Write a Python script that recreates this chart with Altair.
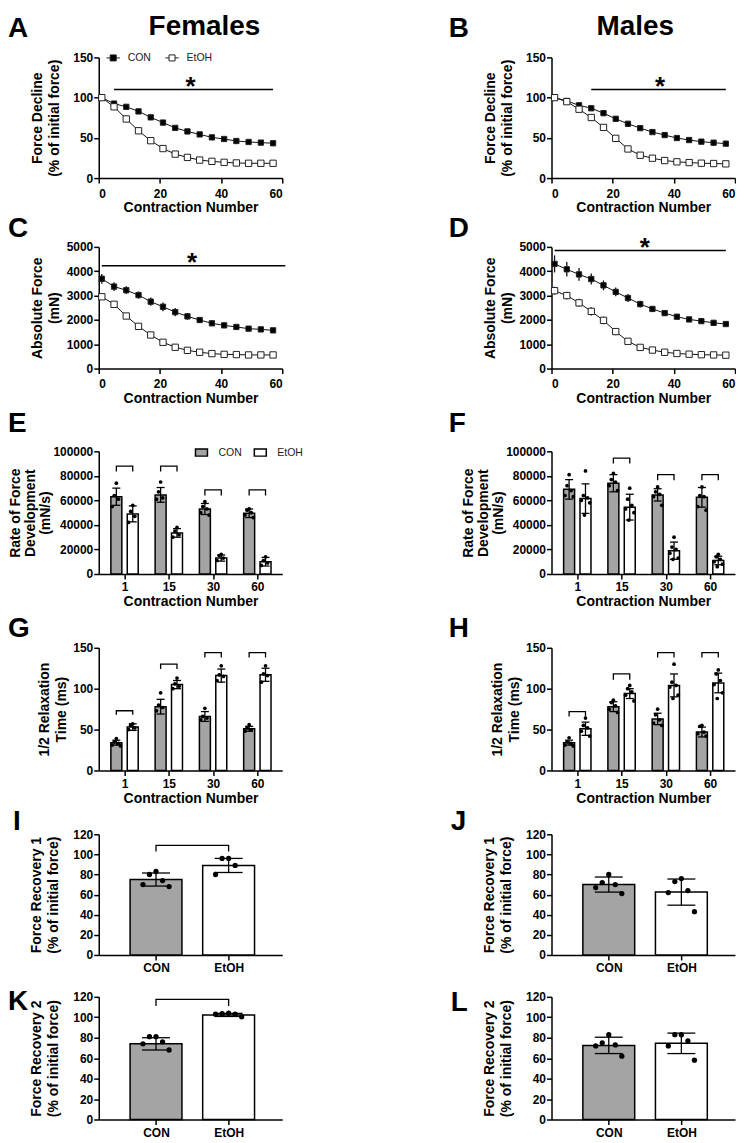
import json
import altair as alt
import pandas as pd

FONT = "Liberation Sans"
GRAY = "#a4a4a4"
INK = "#111111"

# ---------------- data ----------------
contraction = [1, 5, 9, 13, 17, 21, 25, 29, 33, 37, 41, 45, 49, 53, 57]

A_con = [100, 92.6, 88.6, 82.9, 75.5, 69, 62.4, 58, 54.3, 50.6, 48.6, 46.1, 44.9, 44.1, 43.3]
A_etoh = [100, 88.6, 73.5, 58.8, 46.5, 36.7, 29.8, 25.7, 22.4, 20.8, 19.6, 18.8, 18.4, 18.4, 18.4]
A_sig = [5, 57, 110, 30]

B_con = [100, 95.9, 90.5, 86.8, 80.7, 73.7, 67.5, 62.1, 57.2, 53.5, 49.8, 47.3, 45.3, 44, 42.8]
B_etoh = [100, 95, 85.6, 75.3, 63, 49.4, 36.2, 28.4, 24.7, 21.8, 20.2, 19.3, 18.5, 18.1, 17.7]
B_sig = [13, 57, 110, 35.5]

C_con = [3690, 3370, 3220, 3020, 2750, 2540, 2320, 2145, 1995, 1860, 1775, 1710, 1640, 1610, 1570]
C_con_sd = [200, 180, 160, 150, 170, 180, 170, 140, 110, 80, 60, 50, 40, 40, 40]
C_etoh = [2950, 2640, 2160, 1735, 1380, 1080, 875, 750, 670, 615, 585, 575, 560, 560, 560]
C_etoh_sd = [60, 50, 50, 50, 40, 40, 30, 30, 20, 20, 20, 20, 20, 20, 20]
C_sig = [1, 61, 4230, 30.5]

D_con = [4300, 4080, 3870, 3680, 3420, 3150, 2900, 2650, 2450, 2280, 2130, 2020, 1950, 1880, 1830]
D_con_sd = [350, 300, 260, 230, 200, 180, 160, 140, 120, 100, 90, 80, 70, 60, 60]
D_etoh = [3200, 3000, 2700, 2350, 1980, 1520, 1120, 870, 760, 670, 620, 590, 570, 560, 550]
D_etoh_sd = [170, 160, 170, 180, 160, 150, 90, 60, 50, 40, 40, 30, 30, 30, 30]
D_sig = [1, 57, 4850, 30.5]

bar_cats = ["1", "15", "30", "60"]
group_cats = ["CON", "EtOH"]

E_con_mean = [63000, 64500, 53000, 49500]
E_con_sd = [7000, 6000, 4500, 3500]
E_etoh_mean = [49000, 33500, 13000, 10000]
E_etoh_sd = [6500, 3500, 2500, 3500]
E_con_dots = [[74000, 64000, 61000, 55000], [75000, 67000, 62000, 61000],
              [59000, 55000, 53000, 50000, 48000], [53000, 52000, 50000, 48000, 46000]]
E_etoh_dots = [[56000, 51000, 47000, 42000], [38000, 35000, 32000, 30000],
               [16000, 15000, 13000, 11000], [14000, 11000, 9000, 7000]]
E_brackets = [[0, 0, 88000, 83500], [1, 1, 88000, 83500], [2, 2, 68500, 64000], [3, 3, 68500, 64000]]

F_con_mean = [69000, 74000, 64500, 62500]
F_con_sd = [8000, 7000, 5000, 8000]
F_etoh_mean = [61500, 54500, 19000, 11000]
F_etoh_sd = [12000, 10500, 7000, 3500]
F_con_dots = [[81000, 72000, 68000, 64000, 63000], [82000, 77000, 75000, 72000, 68000],
              [71000, 67000, 65000, 63000, 56000], [71000, 64000, 63000, 55000, 52000]]
F_etoh_dots = [[84000, 64000, 62000, 60000, 58000, 48000], [70000, 61000, 56000, 53000, 50000, 44000],
               [30000, 22000, 20000, 17000, 13000, 12000], [16000, 14000, 12000, 10000, 8000, 6000]]
F_brackets = [[1, 1, 94500, 90000], [2, 2, 81000, 76500], [3, 3, 81000, 76500]]

G_con_mean = [34, 78, 66, 51]
G_con_sd = [3, 9, 6, 3]
G_etoh_mean = [53, 105, 116, 117]
G_etoh_sd = [4, 5, 8, 8]
G_con_dots = [[39, 35, 33, 31, 30], [95, 80, 77, 73], [76, 66, 64, 62], [56, 52, 50, 48]]
G_etoh_dots = [[57, 55, 52, 50], [113, 106, 103, 100], [128, 117, 115, 110], [128, 118, 116, 108]]
G_brackets = [[0, 0, 73, 68], [1, 1, 130, 124], [2, 2, 144, 138], [3, 3, 144, 138]]

H_con_mean = [34, 78, 63, 47]
H_con_sd = [3, 6, 7, 6]
H_etoh_mean = [51, 94, 104, 107]
H_etoh_sd = [8, 6, 14, 12]
H_con_dots = [[40, 35, 33, 31, 30], [86, 83, 79, 75, 71], [75, 68, 62, 58, 55], [55, 54, 47, 45, 42]]
H_etoh_dots = [[64, 55, 52, 48, 42], [104, 100, 96, 92, 85], [130, 108, 104, 102, 92, 88],
               [123, 118, 110, 105, 95, 88]]
H_brackets = [[0, 0, 72, 66], [1, 1, 118, 111], [2, 2, 144, 138], [3, 3, 144, 138]]

I_mean = [75, 89]
I_sd = [6.5, 7]
I_dots = [[83, 80, 74, 70, 68], [96, 96, 89, 80]]
I_brackets = [[0, 1, 109, 103]]

J_mean = [70, 62.5]
J_sd = [7.5, 13]
J_dots = [[80, 72, 70, 67, 61], [76, 73, 64, 62, 43]]
J_brackets = []

K_mean = [74, 102.3]
K_sd = [6, 1.5]
K_dots = [[81, 81, 76, 74, 68], [104, 103.5, 103, 103, 100.5]]
K_brackets = [[0, 1, 117.5, 111]]

L_mean = [72.5, 74.5]
L_sd = [8, 10]
L_dots = [[83, 75, 73, 72, 62], [83, 83, 77, 72, 58]]
L_brackets = []

# ---------------- helpers ----------------
PATH_LINE = "M-1,0H-0.45M0.45,0H1M-0.45,-0.45H0.45V0.45H-0.45Z"
PATH_RECT = "M-1,-0.6H1V0.6H-1Z"


def ax(**kw):
    d = dict(grid=False, domainColor="black", domainWidth=1.5, tickColor="black", tickWidth=1.5,
             tickSize=5, labelFont=FONT, labelFontSize=12, labelFontWeight="bold", labelColor="black",
             titleFont=FONT, titleFontSize=14, titleFontWeight="bold", titleColor="black")
    d.update(kw)
    return alt.Axis(**d)


def text_layer(txt, x, y, size=28, align="left"):
    return alt.Chart(pd.DataFrame({"t": [txt]})).mark_text(
        align=align, baseline="alphabetic", font=FONT, fontSize=size, fontWeight="bold", color="black"
    ).encode(text="t:N", x=alt.value(x), y=alt.value(y))


def line_panel(con, etoh, con_sd, etoh_sd, ymax, ystep, ytitle, sig, letter, lx, ly,
               header=None, hx=0, legend=False, h=121):
    n = len(contraction)
    df = pd.DataFrame({
        "n": contraction + contraction,
        "v": con + etoh,
        "sd": (con_sd or [0] * n) + (etoh_sd or [0] * n),
        "g": ["CON"] * n + ["EtOH"] * n,
    })
    xs = alt.Scale(domain=[0, 60], nice=False, zero=False)
    ys = alt.Scale(domain=[0, ymax], nice=False)
    xa = ax(values=[0, 20, 40, 60], title="Contraction Number", labelPadding=5, titlePadding=2)
    ya = ax(values=list(range(0, ymax + 1, ystep)), format="d", title=ytitle, labelPadding=1,
            titleX=-54, titleY=h / 2, titleLineHeight=17)

    def X(f):
        return alt.X(f"{f}:Q", scale=xs, axis=xa)

    def Y(f):
        return alt.Y(f"{f}:Q", scale=ys, axis=ya)

    base = alt.Chart(df)
    layers = [base.mark_line(color=INK, strokeWidth=1).encode(x=X("n"), y=Y("v"), detail="g:N")]
    if con_sd:
        layers.append(
            base.transform_calculate(lo="datum.v - datum.sd", hi="datum.v + datum.sd")
            .mark_rule(strokeWidth=1.3)
            .encode(x=X("n"), y=Y("lo"), y2=alt.Y2("hi"),
                    color=alt.condition(alt.datum.g == "CON", alt.value(INK), alt.value("#444444")))
        )
    if legend:
        fill = alt.Fill("g:N", scale=alt.Scale(domain=group_cats, range=["black", "white"]),
                        legend=alt.Legend(title=None, orient="none", legendX=7, legendY=-7,
                                          direction="horizontal", symbolType=PATH_LINE, symbolSize=180,
                                          symbolStrokeColor="#222222", symbolStrokeWidth=1,
                                          labelFont=FONT, labelFontSize=10.5, labelColor="#222222",
                                          columnPadding=11, labelOffset=7, padding=0))
    else:
        fill = alt.condition(alt.datum.g == "CON", alt.value("black"), alt.value("white"))
    layers.append(
        base.mark_square(filled=True, stroke="#222222", strokeWidth=1, opacity=1)
        .encode(x=X("n"), y=Y("v"), fill=fill,
                size=alt.condition(alt.datum.g == "CON", alt.value(28), alt.value(40)))
    )
    sdf = pd.DataFrame({"x1": [sig[0]], "x2": [sig[1]], "y": [sig[2]], "xs": [sig[3]]})
    layers.append(alt.Chart(sdf).mark_rule(color="black", strokeWidth=1.5)
                  .encode(x=X("x1"), x2=alt.X2("x2"), y=Y("y")))
    layers.append(alt.Chart(sdf).mark_text(text="*", font=FONT, fontSize=26, fontWeight="bold",
                                           color="black", baseline="alphabetic", dy=5)
                  .encode(x=X("xs"), y=Y("y")))
    layers.append(text_layer(letter, lx, ly))
    if header:
        layers.append(text_layer(header, hx, -22, size=28, align="center"))
    return alt.layer(*layers).properties(width=184, height=h)


def bar_panel(groups, brackets, labels, ymax, ystep, ytitle, xtitle, domain, off, bar_w, cap_w,
              dot_size, jit, letter, lx, ly, legend=False, h=123, title_x=-54, title_lh=17):
    summ = pd.DataFrame([{"i": i, "g": g, "m": m, "sd": s} for i, g, m, s, d in groups])
    dots = pd.DataFrame([{"i": i, "g": g, "k": k, "v": v}
                         for i, g, m, s, d in groups for k, v in enumerate(sorted(d, reverse=True))])
    pos_expr = f"datum.i + (datum.g == 'CON' ? {-off} : {off})"
    xs = alt.Scale(domain=domain, nice=False, zero=False)
    ys = alt.Scale(domain=[0, ymax], nice=False)
    xa = ax(values=list(range(len(labels))), labelExpr=f"{json.dumps(labels)}[datum.value]",
            title=xtitle, labelPadding=3, titlePadding=2)
    ya = ax(values=list(range(0, ymax + 1, ystep)), format="d", title=ytitle, labelPadding=1,
            titleX=title_x, titleY=h / 2, titleLineHeight=title_lh)

    def X(f):
        return alt.X(f"{f}:Q", scale=xs, axis=xa)

    def Y(f):
        return alt.Y(f"{f}:Q", scale=ys, axis=ya)

    if legend:
        col = alt.Color("g:N", scale=alt.Scale(domain=group_cats, range=[GRAY, "white"]),
                        legend=alt.Legend(title=None, orient="none", legendX=96, legendY=-6,
                                          direction="horizontal", symbolType=PATH_RECT, symbolSize=144,
                                          symbolStrokeColor="black", symbolStrokeWidth=1.5,
                                          labelFont=FONT, labelFontSize=10.5, labelColor="#222222",
                                          columnPadding=9, labelOffset=10, padding=0))
    else:
        col = alt.condition(alt.datum.g == "CON", alt.value(GRAY), alt.value("white"))

    sb = alt.Chart(summ).transform_calculate(pos=pos_expr, lo="datum.m - datum.sd", hi="datum.m + datum.sd")
    layers = [
        sb.mark_bar(orient="vertical", size=bar_w, stroke="black", strokeWidth=1.5)
        .encode(x=X("pos"), y=Y("m"), color=col),
        sb.mark_rule(color="black", strokeWidth=1.3).encode(x=X("pos"), y=Y("lo"), y2=alt.Y2("hi")),
        sb.mark_tick(orient="horizontal", size=cap_w, thickness=1.3, color="black", opacity=1)
        .encode(x=X("pos"), y=Y("hi")),
        sb.mark_tick(orient="horizontal", size=cap_w, thickness=1.3, color="black", opacity=1)
        .encode(x=X("pos"), y=Y("lo")),
        alt.Chart(dots).transform_calculate(pos=pos_expr)
        .transform_calculate(px=f"datum.pos + [0, -1, 1, -2, 2, -0.5, 0.5][datum.k] * {jit}")
        .mark_circle(size=dot_size, color="black", opacity=1)
        .encode(x=X("px"), y=Y("v")),
    ]
    if brackets:
        rows = []
        for b, (ia, ib, top, leg) in enumerate(brackets):
            rows += [{"b": b, "i": ia, "g": "CON", "y": leg, "o": 0},
                     {"b": b, "i": ia, "g": "CON", "y": top, "o": 1},
                     {"b": b, "i": ib, "g": "EtOH", "y": top, "o": 2},
                     {"b": b, "i": ib, "g": "EtOH", "y": leg, "o": 3}]
        layers.append(
            alt.Chart(pd.DataFrame(rows)).transform_calculate(pos=pos_expr)
            .mark_line(color="black", strokeWidth=1.3)
            .encode(x=X("pos"), y=Y("y"), detail="b:N", order="o:Q")
        )
    layers.append(text_layer(letter, lx, ly))
    return alt.layer(*layers).properties(width=184, height=h)


def four_groups(cm, cs, em, es, cd, ed):
    g = []
    for i in range(len(bar_cats)):
        g.append((i, "CON", cm[i], cs[i], cd[i]))
        g.append((i, "EtOH", em[i], es[i], ed[i]))
    return g


def two_groups(mean, sd, dts):
    return [(0, "CON", mean[0], sd[0], dts[0]), (1, "EtOH", mean[1], sd[1], dts[1])]


def spacer(hh):
    return alt.Chart(pd.DataFrame({"z": [0]})).mark_point(opacity=0).encode(
        x=alt.value(0), y=alt.value(0)).properties(width=184, height=hh)


# ---------------- panels ----------------
YT_FD = ["Force Decline", "(% of initial force)"]
YT_AF = ["Absolute Force", "(mN)"]
YT_RFD = ["Rate of Force", "Development", "(mN/s)"]
YT_RT = ["1/2 Relaxation", "Time (ms)"]
YT_FR1 = ["Force Recovery 1", "(% of initial force)"]
YT_FR2 = ["Force Recovery 2", "(% of initial force)"]

pA = line_panel(A_con, A_etoh, None, None, 150, 50, YT_FD, A_sig, "A", -91, -20,
                header="Females", hx=106, legend=True, h=121)
pB = line_panel(B_con, B_etoh, None, None, 150, 50, YT_FD, B_sig, "B", -103, -20,
                header="Males", hx=84, h=121)
pC = line_panel(C_con, C_etoh, C_con_sd, C_etoh_sd, 5000, 1000, YT_AF, C_sig, "C", -91, -10, h=122)
pD = line_panel(D_con, D_etoh, D_con_sd, D_etoh_sd, 5000, 1000, YT_AF, D_sig, "D", -103, -10, h=122)

DOM4 = [-0.47, 3.45]
DOM2 = [-0.72, 1.67]
pE = bar_panel(four_groups(E_con_mean, E_con_sd, E_etoh_mean, E_etoh_sd, E_con_dots, E_etoh_dots),
               E_brackets, bar_cats, 100000, 20000, YT_RFD, "Contraction Number", DOM4, 0.185, 11, 8,
               14, 0.047, "E", -91, -19, legend=True, h=123, title_x=-76, title_lh=15)
pF = bar_panel(four_groups(F_con_mean, F_con_sd, F_etoh_mean, F_etoh_sd, F_con_dots, F_etoh_dots),
               F_brackets, bar_cats, 100000, 20000, YT_RFD, "Contraction Number", DOM4, 0.185, 11, 8,
               14, 0.047, "F", -103, -19, h=123, title_x=-76, title_lh=15)
pG = bar_panel(four_groups(G_con_mean, G_con_sd, G_etoh_mean, G_etoh_sd, G_con_dots, G_etoh_dots),
               G_brackets, bar_cats, 150, 50, YT_RT, "Contraction Number", DOM4, 0.185, 11, 8,
               14, 0.047, "G", -91, -11, h=123, title_x=-47)
pH = bar_panel(four_groups(H_con_mean, H_con_sd, H_etoh_mean, H_etoh_sd, H_con_dots, H_etoh_dots),
               H_brackets, bar_cats, 150, 50, YT_RT, "Contraction Number", DOM4, 0.185, 11, 8,
               14, 0.047, "H", -103, -11, h=123, title_x=-47)
pI = bar_panel(two_groups(I_mean, I_sd, I_dots), I_brackets, group_cats, 120, 20, YT_FR1, None,
               DOM2, 0, 52, 28, 28, 0.09, "I", -86, -4, h=121, title_x=-55)
pJ = bar_panel(two_groups(J_mean, J_sd, J_dots), J_brackets, group_cats, 120, 20, YT_FR1, None,
               DOM2, 0, 52, 28, 28, 0.09, "J", -101, -4, h=121, title_x=-55)
pK = bar_panel(two_groups(K_mean, K_sd, K_dots), K_brackets, group_cats, 120, 20, YT_FR2, None,
               DOM2, 0, 52, 28, 28, 0.09, "K", -91, 13, h=123, title_x=-55)
pL = bar_panel(two_groups(L_mean, L_sd, L_dots), L_brackets, group_cats, 120, 20, YT_FR2, None,
               DOM2, 0, 52, 28, 28, 0.09, "L", -101, 14, h=123, title_x=-55)

cells = [pA, pB, spacer(69), spacer(69),
         pC, pD, spacer(83), spacer(83),
         pE, pF, spacer(74), spacer(74),
         pG, pH, spacer(64), spacer(64),
         pI, pJ, spacer(42), spacer(42),
         pK, pL]

chart = alt.concat(*cells, columns=2, spacing={"row": 0, "column": 270}, bounds="flush")
chart = chart.resolve_scale(color="independent", fill="independent").resolve_legend(
    color="independent", fill="independent")
chart = chart.properties(padding={"left": 0, "top": 4, "right": 0, "bottom": 0},
                         background="white").configure_view(strokeWidth=0)

chart.save("out.html", embed_options={"renderer": "svg", "actions": False})
